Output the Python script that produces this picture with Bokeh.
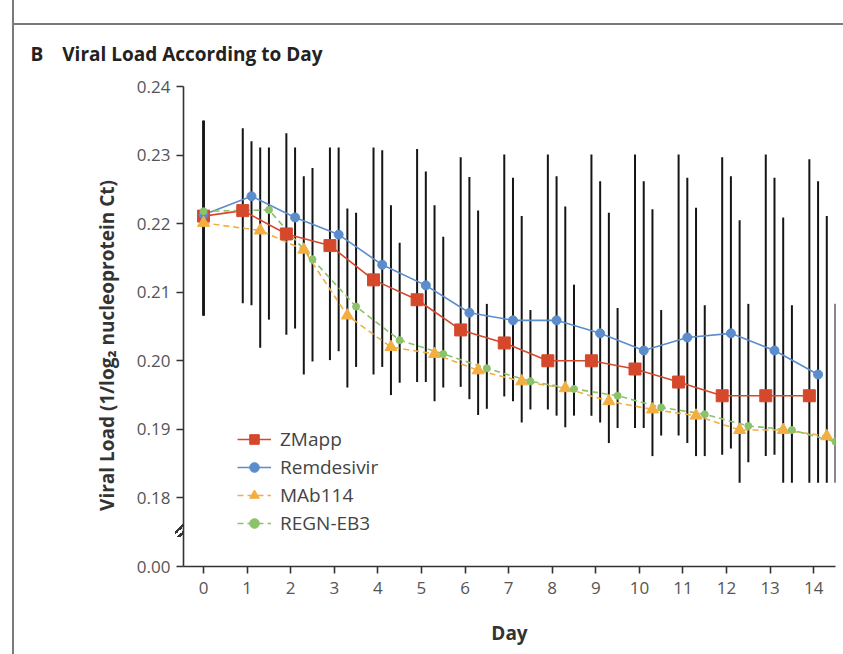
import numpy as np
from bokeh.plotting import figure
from bokeh.models import ColumnDataSource, FixedTicker, Legend, LegendItem, Range1d
from bokeh.embed import file_html
from bokeh.resources import INLINE

# ---------------- data ----------------
days = list(range(15))
x_tick_labels = [str(d) for d in days]

y_tick_values = [0.17, 0.18, 0.19, 0.20, 0.21, 0.22, 0.23, 0.24]
y_tick_labels = ["0.00", "0.18", "0.19", "0.20", "0.21", "0.22", "0.23", "0.24"]

series_names = ["ZMapp", "Remdesivir", "MAb114", "REGN-EB3"]

zmapp_mean = [0.2211, 0.2219, 0.2185, 0.2168, 0.2118, 0.2089, 0.2045, 0.2026,
              0.2000, 0.2000, 0.1988, 0.1969, 0.1949, 0.1949, 0.1949]
zmapp_upper = [0.2350, 0.2339, 0.2332, 0.2311, 0.2311, 0.2309, 0.2297, 0.2301,
               0.2301, 0.2301, 0.2301, 0.2301, 0.2297, 0.2301, 0.2294]
zmapp_lower = [0.2066, 0.2084, 0.2038, 0.2001, 0.1980, 0.1969, 0.1962, 0.1948,
               0.1929, 0.1920, 0.1902, 0.1891, 0.1863, 0.1861, 0.1822]

remdesivir_mean = [0.2213, 0.2240, 0.2209, 0.2184, 0.2140, 0.2110, 0.2070, 0.2059,
                   0.2059, 0.2040, 0.2015, 0.2034, 0.2040, 0.2015, 0.1980]
remdesivir_upper = [0.2350, 0.2320, 0.2311, 0.2311, 0.2307, 0.2276, 0.2268, 0.2267,
                    0.2269, 0.2262, 0.2262, 0.2267, 0.2269, 0.2267, 0.2262]
remdesivir_lower = [0.2066, 0.2081, 0.2047, 0.2014, 0.1991, 0.1969, 0.1944, 0.1941,
                    0.1920, 0.1910, 0.1902, 0.1880, 0.1872, 0.1863, 0.1822]

mab114_mean = [0.2201, 0.2190, 0.2162, 0.2066, 0.2020, 0.2010, 0.1986, 0.1970,
               0.1960, 0.1941, 0.1929, 0.1920, 0.1899, 0.1899, 0.1890]
mab114_upper = [0.2350, 0.2311, 0.2269, 0.2222, 0.2227, 0.2227, 0.2219, 0.2211,
                0.2225, 0.2216, 0.2221, 0.2223, 0.2205, 0.2209, 0.2211]
mab114_lower = [0.2066, 0.2019, 0.1980, 0.1961, 0.1950, 0.1941, 0.1921, 0.1910,
                0.1903, 0.1880, 0.1861, 0.1861, 0.1822, 0.1822, 0.1822]

regn_mean = [0.2218, 0.2220, 0.2148, 0.2079, 0.2030, 0.2010, 0.1989, 0.1970,
             0.1959, 0.1949, 0.1932, 0.1922, 0.1905, 0.1899, 0.1882]
regn_upper = [0.2350, 0.2311, 0.2281, 0.2216, 0.2172, 0.2181, 0.2083, 0.2074,
              0.2111, 0.2077, 0.2074, 0.2081, 0.2083, 0.2081, 0.2083]
regn_lower = [0.2066, 0.2060, 0.1999, 0.1991, 0.1968, 0.1961, 0.1930, 0.1929,
              0.1920, 0.1902, 0.1891, 0.1861, 0.1852, 0.1822, 0.1822]

# horizontal dodge of each group (day 0 undodged)
dodge = [-0.1, 0.1, 0.3, 0.5]

# ---------------- styles ----------------
colors = ["#d5482c", "#5b8ccc", "#f3ae42", "#8cc26a"]
markers = ["square", "circle", "triangle", "circle"]
msizes = [12, 9, 12, 7]
dashes = ["solid", "solid", "6 4", "6 4"]
FONT = "Open Sans"

p = figure(width=843, height=654, output_backend="svg", toolbar_location=None,
           x_range=Range1d(-0.46, 14.5), y_range=Range1d(0.17, 0.24),
           min_border_left=183, min_border_right=8, min_border_top=86,
           min_border_bottom=88)
p.background_fill_color = "white"
p.border_fill_alpha = 0
p.outline_line_color = None
p.grid.visible = False

# scan page rules and the axis-break marks, painted behind the canvas
p.styles = {
    "background-color": "white",
    "background-image": (
        "linear-gradient(#7a7a7a, #7a7a7a), "
        "linear-gradient(#7a7a7a, #7a7a7a), "
        "linear-gradient(135deg, transparent 37%, #333 37%, #333 45%, transparent 45%, "
        "transparent 55%, #333 55%, #333 63%, transparent 63%)"
    ),
    "background-size": "2px 100%, calc(100% - 12px) 2px, 20px 20px",
    "background-position": "12px 0px, 12px 23px, 175px 517px",
    "background-repeat": "no-repeat",
}

p.title.text = "B\u2003Viral Load According to Day"
p.title.align = "left"
p.title.offset = -153
p.title.text_font = FONT
p.title.text_font_size = "19px"
p.title.text_font_style = "bold"
p.title.text_color = "#222222"
p.title.standoff = 39

all_data = [
    (zmapp_mean, zmapp_lower, zmapp_upper),
    (remdesivir_mean, remdesivir_lower, remdesivir_upper),
    (mab114_mean, mab114_lower, mab114_upper),
    (regn_mean, regn_lower, regn_upper),
]

d = np.array(days, dtype=float)
sources = []
for i, (m, lo, hi) in enumerate(all_data):
    xs = np.where(d == 0, d, d + dodge[i])
    sources.append(ColumnDataSource(dict(x=xs, mean=m, lower=lo, upper=hi)))

# error bars
for src in sources:
    p.segment(x0="x", y0="lower", x1="x", y1="upper", source=src,
              line_color="#151515", line_width=2)

items = []
line_rs = []
for i, src in enumerate(sources):
    lr = p.line("x", "mean", source=src, line_color=colors[i], line_width=1.6,
                line_dash=dashes[i])
    line_rs.append(lr)
for i, src in enumerate(sources):
    mr = p.scatter("x", "mean", source=src, marker=markers[i], size=msizes[i],
                   fill_color=colors[i], line_color=colors[i])
    items.append(LegendItem(label=series_names[i], renderers=[line_rs[i], mr]))

legend = Legend(items=items, location=(54, 30))
legend.background_fill_alpha = 0
legend.border_line_color = None
legend.label_text_font = FONT
legend.label_text_font_size = "19px"
legend.label_text_color = "#444444"
legend.glyph_width = 34
legend.glyph_height = 24
legend.label_height = 24
legend.spacing = 2
legend.padding = 4
legend.label_standoff = 9
p.add_layout(legend, "center")

# axes
p.xaxis.ticker = FixedTicker(ticks=days)
p.xaxis.major_label_overrides = {dd: lab for dd, lab in zip(days, x_tick_labels)}
p.yaxis.ticker = FixedTicker(ticks=y_tick_values)
p.yaxis.major_label_overrides = {v: lab for v, lab in zip(y_tick_values, y_tick_labels)}

for ax in (p.xaxis[0], p.yaxis[0]):
    ax.axis_line_color = "#333333"
    ax.axis_line_width = 1.6
    ax.major_tick_line_color = "#333333"
    ax.major_tick_line_width = 1.6
    ax.major_tick_out = 7
    ax.major_tick_in = 0
    ax.minor_tick_line_color = None
    ax.major_label_text_font = FONT
    ax.major_label_text_font_size = "17px"
    ax.major_label_text_color = "#555555"
    ax.axis_label_text_font = FONT
    ax.axis_label_text_font_size = "19px"
    ax.axis_label_text_font_style = "bold"
    ax.axis_label_text_color = "#333333"

p.xaxis.major_label_standoff = 8
p.yaxis.major_label_standoff = 6
p.xaxis.axis_label = "Day"
p.xaxis.axis_label_standoff = 23
p.yaxis.axis_label = "Viral Load (1/log\u2082 nucleoprotein Ct)\u2003\u2003"
p.yaxis.axis_label_standoff = 14

open("out.html", "w").write(file_html(p, INLINE))
